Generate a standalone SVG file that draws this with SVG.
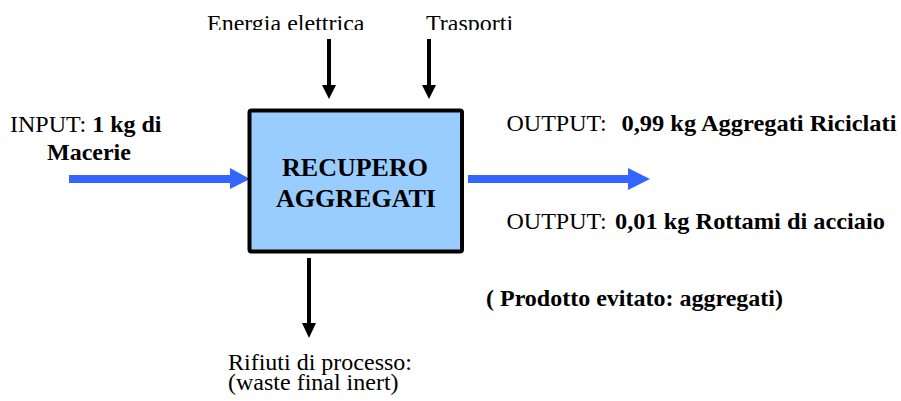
<svg xmlns="http://www.w3.org/2000/svg" width="901" height="401" viewBox="0 0 901 401">
<style>
  .t { font-family: 'Liberation Serif', 'DejaVu Serif', serif; fill: #000; }
  .r { font-size: 24px; }
  .b { font-weight: bold; }
  .big { font-size: 26px; font-weight: bold; }
  .blk { stroke: #000; stroke-width: 4; fill: none; }
  .blue { stroke: #3366FF; stroke-width: 8; fill: none; }
</style>
<defs>
  <clipPath id="topclip"><rect x="0" y="0" width="901" height="30"/></clipPath>
</defs>
<rect x="0" y="0" width="901" height="401" fill="#fff"/>

<g id="connectors">
  <line class="blk" x1="329" y1="39" x2="329" y2="86"/>
  <polygon points="322,85 336,85 329,99" fill="#000"/>
  <line class="blk" x1="429" y1="39" x2="429" y2="86"/>
  <polygon points="422,85 436,85 429,99" fill="#000"/>
  <line class="blk" x1="309" y1="258" x2="309" y2="324"/>
  <polygon points="302,323 316,323 309,338" fill="#000"/>
  <line class="blue" x1="69" y1="179" x2="232" y2="179" stroke-width="7"/>
  <polygon points="230,168 250,179 230,189" fill="#3366FF"/>
  <line class="blue" x1="468" y1="179" x2="630" y2="179"/>
  <polygon points="628,168 650,179 628,190" fill="#3366FF"/>
</g>

<g id="process">
  <rect x="249.5" y="110.5" width="212.5" height="141" rx="2" fill="#99CCFF" stroke="#000" stroke-width="4"/>
  <text class="t big" font-family="Liberation Serif, serif" x="355" y="176" text-anchor="middle">RECUPERO</text>
  <text class="t big" font-family="Liberation Serif, serif" x="356" y="207" text-anchor="middle">AGGREGATI</text>
</g>

<g id="energia" clip-path="url(#topclip)">
  <text class="t r" font-family="Liberation Serif, serif" x="207" y="31">Energia elettrica</text>
</g>
<g id="trasporti" clip-path="url(#topclip)">
  <text class="t r" font-family="Liberation Serif, serif" x="426" y="31">Trasporti</text>
</g>

<g id="input">
  <text class="t r" font-family="Liberation Serif, serif" x="10" y="132">INPUT: <tspan class="b">1 kg di</tspan></text>
  <text class="t r b" font-family="Liberation Serif, serif" x="47" y="160">Macerie</text>
</g>

<g id="output1">
  <text class="t r" font-family="Liberation Serif, serif" x="506.5" y="131">OUTPUT: <tspan class="b" x="621.5" textLength="275" lengthAdjust="spacingAndGlyphs">0,99 kg Aggregati Riciclati</tspan></text>
</g>

<g id="output2">
  <text class="t r" font-family="Liberation Serif, serif" x="506.5" y="229">OUTPUT: <tspan class="b" x="615" textLength="270" lengthAdjust="spacingAndGlyphs">0,01 kg Rottami di acciaio</tspan></text>
</g>

<g id="evitato">
  <text class="t r b" font-family="Liberation Serif, serif" x="486" y="306">( Prodotto evitato: aggregati)</text>
</g>

<g id="rifiuti">
  <text class="t r" font-family="Liberation Serif, serif" x="228" y="370">Rifiuti di processo:</text>
  <text class="t r" font-family="Liberation Serif, serif" x="228" y="390">(waste final inert)</text>
</g>
</svg>
